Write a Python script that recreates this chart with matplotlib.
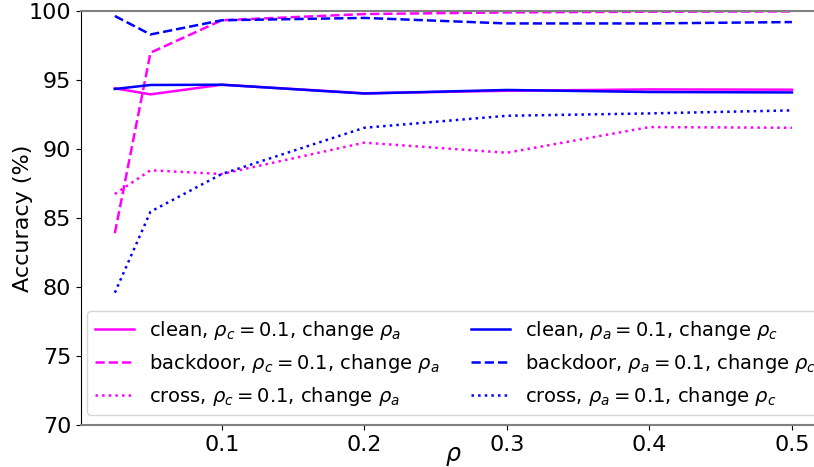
import matplotlib
matplotlib.use("Agg")
import matplotlib.pyplot as plt

rho = [0.025, 0.05, 0.1, 0.2, 0.3, 0.4, 0.5]

# rho_c = 0.1, change rho_a
clean_a = [94.4, 93.96, 94.66, 94.04, 94.22, 94.32, 94.3]
backdoor_a = [83.9, 96.98, 99.33, 99.78, 99.9, 99.95, 99.97]
cross_a = [86.74, 88.46, 88.19, 90.46, 89.73, 91.59, 91.54]

# rho_a = 0.1, change rho_c
clean_c = [94.35, 94.64, 94.66, 94.02, 94.28, 94.13, 94.1]
backdoor_c = [99.64, 98.3, 99.33, 99.5, 99.1, 99.1, 99.2]
cross_c = [79.59, 85.46, 88.19, 91.54, 92.41, 92.58, 92.8]

fig = plt.figure(figsize=(8.14, 4.67), dpi=100)
ax = fig.add_axes([0.0995, 0.0899, 0.915, 0.8865])

lw = 1.8
ax.plot(rho, clean_a, color="magenta", linestyle="-", lw=lw,
        label=r"clean, $\rho_c=0.1$, change $\rho_a$")
ax.plot(rho, backdoor_a, color="magenta", linestyle="--", lw=lw,
        label=r"backdoor, $\rho_c=0.1$, change $\rho_a$")
ax.plot(rho, cross_a, color="magenta", linestyle=":", lw=lw,
        label=r"cross, $\rho_c=0.1$, change $\rho_a$")
ax.plot(rho, clean_c, color="blue", linestyle="-", lw=lw,
        label=r"clean, $\rho_a=0.1$, change $\rho_c$")
ax.plot(rho, backdoor_c, color="blue", linestyle="--", lw=lw,
        label=r"backdoor, $\rho_a=0.1$, change $\rho_c$")
ax.plot(rho, cross_c, color="blue", linestyle=":", lw=lw,
        label=r"cross, $\rho_a=0.1$, change $\rho_c$")

ax.set_ylim(70, 100)
ax.set_xticks([0.1, 0.2, 0.3, 0.4, 0.5])
ax.set_xticklabels(["0.1", "0.2", "0.3", "0.4", "0.5"])
ax.tick_params(labelsize=16)
ax.set_xlabel(r"$\rho$", fontsize=17)
ax.xaxis.set_label_coords(0.5, -0.045)
ax.set_ylabel("Accuracy (%)", fontsize=16)
ax.yaxis.set_label_coords(-0.064, 0.5)

ax.spines["top"].set_color("gray")
ax.spines["bottom"].set_color("gray")
ax.spines["top"].set_linewidth(1.5)
ax.spines["bottom"].set_linewidth(1.5)

ax.legend(ncol=2, fontsize=14, loc="lower left",
          bbox_to_anchor=(-0.005, 0.0), columnspacing=1.6)

fig.savefig("out.png", dpi=100)
